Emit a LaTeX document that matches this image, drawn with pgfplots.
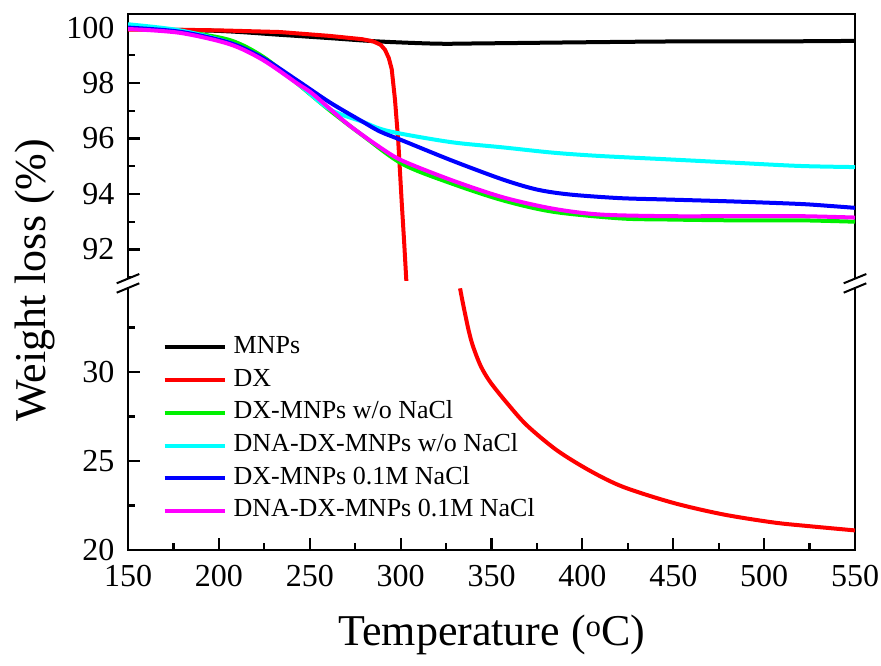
\documentclass[border=0pt]{standalone}
\usepackage{fontspec}
\setmainfont{Liberation Serif}
\usepackage{pgfplots}
\pgfplotsset{compat=1.18}
\definecolor{cgreen}{RGB}{0,240,0}
\definecolor{ccyan}{RGB}{0,255,255}
\definecolor{cblue}{RGB}{0,0,255}
\definecolor{cmag}{RGB}{255,0,255}
\definecolor{cred}{RGB}{255,0,0}
\begin{document}
\begin{tikzpicture}[x=1pt,y=1pt]
\useasboundingbox (0,0) rectangle (881,665);
\pgfplotsset{
  tga/.style={
    scale only axis, width=727pt,
    xmin=150, xmax=550,
    tick align=inside,
    major tick length=12pt, minor tick length=7pt,
    line width=2.5pt,
    axis line style={line width=2.5pt},
    major tick style={draw=black, line width=2.2pt},
    minor tick style={draw=black, line width=2.2pt},
    ticklabel style={font=\fontsize{32}{32}\selectfont},
    yticklabel style={xshift=-9pt},
    xticklabel style={yshift=-11pt},
    /pgf/number format/assume math mode=true,
    ytick pos=left, xtick pos=bottom,
    every axis plot/.append style={line width=4pt, line join=round},
  }
}
% upper panel
\begin{axis}[tga,
  at={(128pt,382pt)}, anchor=south west, height=269pt,
  xtick=\empty,
  ymin=90.79, ymax=100.49,
  ytick={92,94,96,98,100}, minor ytick={91,93,95,97,99},
]
\addplot[black, smooth] coordinates {(150,99.95) (200,99.88) (233.6,99.74) (261,99.62) (288,99.5) (320,99.42) (344,99.43) (400,99.47) (450,99.5) (500,99.5) (550,99.52)};
\addplot[cred] coordinates {(150,99.93) (180,99.92) (200,99.9) (233.6,99.84) (261,99.7) (279,99.58) (285,99.5) (289,99.38) (291.4,99.2) (293.5,98.9) (295.1,98.5) (296.9,97.4) (298.7,95.9) (300.6,93.7) (302,92.2) (303.2,90.8)};
\addplot[cgreen, smooth] coordinates {(150,100.03) (178.6,99.87) (206,99.55) (224.3,98.95) (243,97.99) (261.1,97.01) (279.3,96.1) (301.3,95.07) (328.8,94.36) (356.3,93.77) (383.8,93.36) (420.7,93.12) (446.6,93.08) (482.9,93.05) (519.7,93.05) (550,93.0)};
\addplot[ccyan, smooth] coordinates {(150,100.12) (178.6,99.9) (206,99.45) (224.3,98.85) (243,98.0) (261.1,97.05) (279.3,96.6) (288.7,96.35) (301.3,96.16) (328.8,95.86) (356.3,95.68) (383.8,95.49) (409.7,95.37) (446.6,95.25) (482.9,95.13) (519.7,95.01) (550,94.97)};
\addplot[cblue, smooth] coordinates {(150,100.0) (178.6,99.85) (206,99.45) (224.3,98.9) (243,98.1) (261.1,97.3) (279.3,96.6) (288.7,96.25) (301.3,95.92) (328.8,95.19) (356.3,94.52) (375,94.16) (393.2,93.98) (420.7,93.85) (446.6,93.8) (482.9,93.73) (519.7,93.64) (537.9,93.56) (550,93.5)};
\addplot[cmag, smooth] coordinates {(150,99.95) (178.6,99.81) (206,99.4) (224.3,98.83) (243,97.99) (251.8,97.6) (270.5,96.54) (288.7,95.68) (301.3,95.19) (328.8,94.48) (356.3,93.88) (383.8,93.47) (409.7,93.26) (446.6,93.2) (482.9,93.2) (519.7,93.2) (550,93.15)};
\end{axis}
% lower panel
\begin{axis}[tga,
  at={(128pt,115pt)}, anchor=south west, height=267pt,
  xtick={150,200,...,550}, minor xtick={175,225,...,525},
  ymin=20, ymax=35.0,
  ytick={20,25,30}, minor ytick={22.5,27.5,32.5},
  legend style={at={(rel axis cs:0.046,0.812)}, anchor=north west,
    draw=none, fill=none, inner sep=0pt, row sep=6.7pt,
    font=\fontsize{26}{26}\selectfont,
    nodes={inner ysep=1pt, inner xsep=7pt, text height=18pt, text depth=6pt}},
  legend cell align=left,
  legend image code/.code={\draw[#1] (0pt,0pt) -- (60pt,0pt);},
]
\addlegendimage{black, line width=4pt}
\addlegendentry{MNPs}
\addlegendimage{cred, line width=4pt}
\addlegendentry{DX}
\addlegendimage{cgreen, line width=4pt}
\addlegendentry{DX-MNPs w/o NaCl}
\addlegendimage{ccyan, line width=4pt}
\addlegendentry{DNA-DX-MNPs w/o NaCl}
\addlegendimage{cblue, line width=4pt}
\addlegendentry{DX-MNPs 0.1M NaCl}
\addlegendimage{cmag, line width=4pt}
\addlegendentry{DNA-DX-MNPs 0.1M NaCl}
\addplot[cred, smooth, forget plot] coordinates {(332.7,34.7) (334,34.0) (335.4,33.3) (337.5,32.3) (339.8,31.45) (344,30.35) (349.2,29.45) (358.5,28.26) (369.5,27.0) (386,25.6) (404.2,24.45) (422.3,23.55) (449.9,22.65) (477.4,22.0) (504.9,21.55) (523.6,21.35) (550,21.1)};
\end{axis}
% hide the joined frame between panels
\draw[white, line width=3.5pt] (129.4,382) -- (853.6,382);
% axis breaks
\foreach \bx in {128,855} {
  \fill[white] (\bx-11.3,381.7) -- (\bx+11.3,391) -- (\bx+11.3,381.7) -- (\bx-11.3,372.3) -- cycle;
  \draw[line width=2pt] (\bx-11.3,381.7) -- (\bx+11.3,391);
  \draw[line width=2pt] (\bx-11.3,372.3) -- (\bx+11.3,381.7);
}
% axis titles
\node[font=\fontsize{44}{44}\selectfont] at (492,30) {Temperature (\textsuperscript{o}C)};
\node[rotate=90, font=\fontsize{44}{44}\selectfont] at (35,385) {Weight loss (\%)};
\end{tikzpicture}
\end{document}
